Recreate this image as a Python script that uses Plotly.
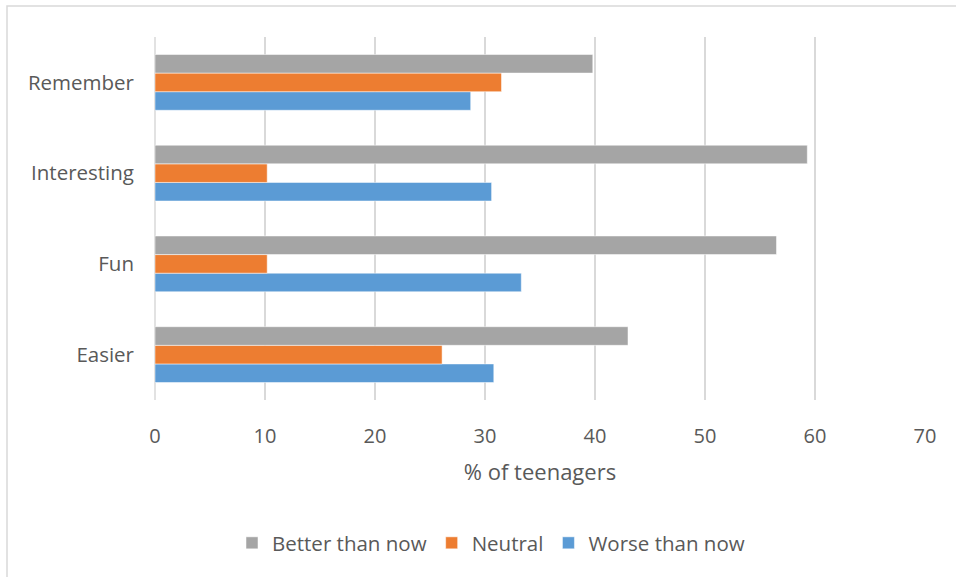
import plotly.graph_objects as go

categories = ["Easier", "Fun", "Interesting", "Remember"]
better = [43.0, 56.5, 59.3, 39.8]
neutral = [26.1, 10.2, 10.2, 31.5]
worse = [30.8, 33.3, 30.6, 28.7]
x_ticks = [0, 10, 20, 30, 40, 50, 60, 70]

W, H = 956, 577
L, R, T, B = 155, 925, 37, 400
FONT = "Open Sans"
TXT = "#595959"

fig = go.Figure()
fig.add_trace(go.Bar(y=categories, x=worse, name="Worse than now", orientation="h",
                     marker=dict(color="#5B9BD5", line=dict(color="white", width=0.5))))
fig.add_trace(go.Bar(y=categories, x=neutral, name="Neutral", orientation="h",
                     marker=dict(color="#ED7D31", line=dict(color="white", width=0.5))))
fig.add_trace(go.Bar(y=categories, x=better, name="Better than now", orientation="h",
                     marker=dict(color="#A5A5A5", line=dict(color="white", width=0.5))))

def px_x(p):
    return (p - L) / (R - L)

def px_y(p):
    return (B - p) / (B - T)

fig.update_layout(
    width=W, height=H,
    margin=dict(l=L, r=W - R, t=T, b=H - B),
    paper_bgcolor="white", plot_bgcolor="white",
    barmode="group", bargap=0.385, bargroupgap=0,
    font=dict(family=FONT, size=20, color=TXT),
    xaxis=dict(range=[0, 70], tickvals=x_ticks, showgrid=True, gridcolor="#D9D9D9",
               gridwidth=1.5, zeroline=False, showline=False, ticks="",
               ticklabelstandoff=22, tickfont=dict(size=20),
               title=dict(text="% of teenagers", standoff=16, font=dict(size=22))),
    yaxis=dict(showgrid=False, zeroline=False, showline=False, ticks="",
               ticklabelstandoff=20, tickfont=dict(size=20.5)),
    legend=dict(orientation="h", traceorder="reversed", x=px_x(491), xanchor="center",
                y=px_y(543), yanchor="middle", font=dict(size=20.5), itemwidth=30),
    showlegend=True,
    shapes=[dict(type="line", xref="paper", yref="paper", x0=0, x1=0, y0=0, y1=1,
                 line=dict(color="#D9D9D9", width=1.5), layer="below"),
            dict(type="rect", xref="paper", yref="paper", x0=px_x(7), x1=px_x(962),
                 y0=px_y(585), y1=px_y(6), line=dict(color="#D9D9D9", width=1.5))],
)

fig.write_html("out.html", config={"displayModeBar": False},
               post_script="document.body.style.margin='0px';document.body.style.overflow='hidden';")
